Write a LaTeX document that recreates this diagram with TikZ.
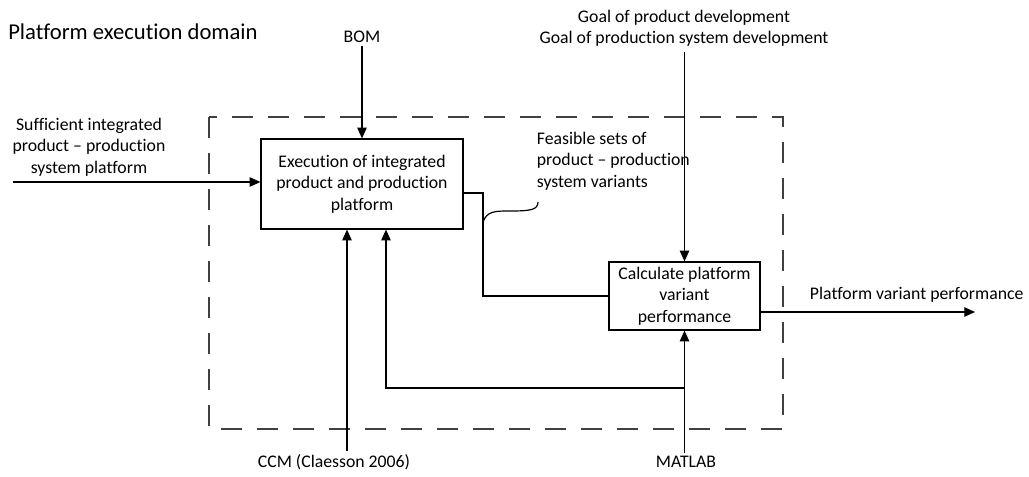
\documentclass[tikz,border=0pt]{standalone}
\usepackage{fontspec}
\setmainfont{Carlito}[Ligatures=NoCommon]
\usetikzlibrary{arrows.meta}
\tikzset{
  blk/.style={draw,line width=0.9pt,align=center,inner sep=0pt},
  lbl/.style={align=center,inner sep=2pt},
  wire/.style={line width=0.9pt},
  arr/.style={wire,-{Triangle[length=8pt,width=7pt]}},
  bound/.style={line width=1pt,black!75,dash pattern=on 16pt off 11pt},
}
\begin{document}
\begin{tikzpicture}[x=0.75pt,y=-0.75pt,font=\fontsize{13.3}{16}\selectfont]
        \useasboundingbox (0,0) rectangle (1029,477);
        %% title and domain
        \node[anchor=base west,inner sep=0pt,font=\fontsize{17}{20}\selectfont] (title) at (8,40) {Platform execution domain};
        \draw[bound] (209,117) rectangle (783,429);
        %% activities
        \node[blk,minimum width=151.5pt,minimum height=67.5pt] (exec) at (362,184)
            {Execution of integrated\\product and production\\platform};
        \node[blk,minimum width=113.25pt,minimum height=51pt] (calc) at (684.5,296)
            {Calculate platform\\variant\\performance};
        %% labels
        \node[lbl] (bom) at (362,37) {BOM};
        \node[lbl] (goal) at (684,28) {Goal of product development\\Goal of production system development};
        \node[lbl] (suff) at (89,147) {Sufficient integrated\\product -- production\\system platform};
        \node[lbl,anchor=west,align=left] (feas) at (534,161) {Feasible sets of\\product -- production\\system variants};
        \node[lbl,anchor=west] (perf) at (807,295) {Platform variant performance};
        \node[lbl] (ccm) at (334,462) {CCM (Claesson 2006)};
        \node[lbl] (matlab) at (686,462) {MATLAB};
        \coordinate (in) at (13,182);
        \coordinate (bend) at (483,193);
        \coordinate (fb) at (684.5,388);
        \coordinate (outend) at (975,312);
        \coordinate (sq) at (483,222);
        \coordinate (sqend) at (538,202);
        %% inputs
        \draw[arr] (in) -- (in -| exec.west);
        \draw[arr] (bom.south) -- (exec.north);
        \draw[arr] ([yshift=-2pt]goal.south -| calc.north) -- (calc.north);
        %% mechanisms
        \draw[arr] ([xshift=-11.25pt]exec.south |- ccm.north) -- ([xshift=-11.25pt]exec.south);
        \draw[arr] (calc.south |- matlab.north) -- (calc.south);
        \draw[arr] (fb) -| ([xshift=18pt]exec.south);
        %% flow between activities
        \draw[wire] (exec.east |- bend) -- (bend) |- (calc.west);
        \draw[wire] (sq) .. controls (487,211) and (495,211) .. (510,211)
            .. controls (530,211) and (538,210) .. (sqend);
        %% output
        \draw[arr] (calc.east |- outend) -- (outend);
    \end{tikzpicture}
\end{document}
